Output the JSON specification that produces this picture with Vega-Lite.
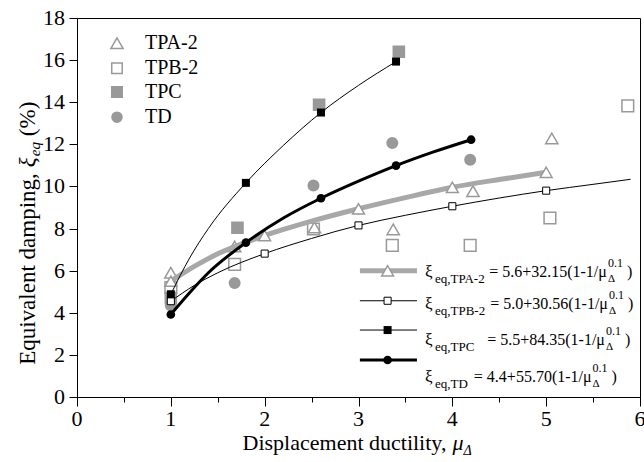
{
 "$schema": "https://vega.github.io/schema/vega-lite/v6.json",
 "width": 563, "height": 379,
 "autosize": {"type": "none"},
 "padding": {"left": 77, "top": 18, "right": 4, "bottom": 65},
 "background": "white",
 "config": {
  "view": {"stroke": "black", "strokeWidth": 1},
  "font": "Liberation Serif",
  "text": {"font": "Liberation Serif", "color": "black"}
 },
 "datasets": {
  "pts": [
   {"series":"TPA-2","x":1,"y":5.9},{"series":"TPA-2","x":1.68,"y":7.15},{"series":"TPA-2","x":2.53,"y":8.05},{"series":"TPA-2","x":3.37,"y":7.96},{"series":"TPA-2","x":4.22,"y":9.78},{"series":"TPA-2","x":5.06,"y":12.28},
   {"series":"TPB-2","x":1,"y":5.2},{"series":"TPB-2","x":1.68,"y":6.3},{"series":"TPB-2","x":2.52,"y":7.98},{"series":"TPB-2","x":3.36,"y":7.2},{"series":"TPB-2","x":4.19,"y":7.2},{"series":"TPB-2","x":5.04,"y":8.5},{"series":"TPB-2","x":5.87,"y":13.83},
   {"series":"TPC","x":1,"y":4.7},{"series":"TPC","x":1.71,"y":8.04},{"series":"TPC","x":2.58,"y":13.88},{"series":"TPC","x":3.43,"y":16.4},
   {"series":"TD","x":1,"y":4.35},{"series":"TD","x":1.68,"y":5.41},{"series":"TD","x":2.52,"y":10.04},{"series":"TD","x":3.36,"y":12.06},{"series":"TD","x":4.19,"y":11.27}
  ],
  "fits": [
   {"series":"TPA-2","x":1,"y":5.5,"m":1},{"series":"TPA-2","x":1.25,"y":6.2,"m":0},{"series":"TPA-2","x":1.5,"y":6.8,"m":0},{"series":"TPA-2","x":2,"y":7.67,"m":1},{"series":"TPA-2","x":2.5,"y":8.35,"m":0},{"series":"TPA-2","x":3,"y":8.94,"m":1},{"series":"TPA-2","x":3.5,"y":9.47,"m":0},{"series":"TPA-2","x":4,"y":9.96,"m":1},{"series":"TPA-2","x":4.5,"y":10.33,"m":0},{"series":"TPA-2","x":5,"y":10.67,"m":1},
   {"series":"TPB-2","x":1,"y":4.55,"m":1},{"series":"TPB-2","x":1.25,"y":5.3,"m":0},{"series":"TPB-2","x":1.5,"y":5.9,"m":0},{"series":"TPB-2","x":2,"y":6.81,"m":1},{"series":"TPB-2","x":2.5,"y":7.53,"m":0},{"series":"TPB-2","x":3,"y":8.15,"m":1},{"series":"TPB-2","x":3.5,"y":8.63,"m":0},{"series":"TPB-2","x":4,"y":9.06,"m":1},{"series":"TPB-2","x":4.5,"y":9.45,"m":0},{"series":"TPB-2","x":5,"y":9.8,"m":1},{"series":"TPB-2","x":5.5,"y":10.1,"m":0},{"series":"TPB-2","x":5.9,"y":10.34,"m":0},
   {"series":"TPC","x":1,"y":4.88,"m":1},{"series":"TPC","x":1.2,"y":6.6,"m":0},{"series":"TPC","x":1.4,"y":8.0,"m":0},{"series":"TPC","x":1.8,"y":10.17,"m":1},{"series":"TPC","x":2.2,"y":11.95,"m":0},{"series":"TPC","x":2.6,"y":13.51,"m":1},{"series":"TPC","x":3.0,"y":14.8,"m":0},{"series":"TPC","x":3.4,"y":15.93,"m":1},
   {"series":"TD","x":1,"y":3.92,"m":1},{"series":"TD","x":1.2,"y":4.95,"m":0},{"series":"TD","x":1.4,"y":5.9,"m":0},{"series":"TD","x":1.8,"y":7.33,"m":1},{"series":"TD","x":2.2,"y":8.5,"m":0},{"series":"TD","x":2.6,"y":9.44,"m":1},{"series":"TD","x":3.0,"y":10.25,"m":0},{"series":"TD","x":3.4,"y":10.99,"m":1},{"series":"TD","x":3.8,"y":11.64,"m":0},{"series":"TD","x":4.2,"y":12.22,"m":1}
  ],
  "xticks": [{"v":0},{"v":1},{"v":2},{"v":3},{"v":4},{"v":5},{"v":6}],
  "yticks": [{"v":0},{"v":2},{"v":4},{"v":6},{"v":8},{"v":10},{"v":12},{"v":14},{"v":16},{"v":18}]
 },
 "layer": [
  {
   "data": {"name": "pts"},
   "mark": {"type": "point", "filled": true, "strokeWidth": 1.5, "opacity": 1},
   "encoding": {
    "x": {"field": "x", "type": "quantitative", "title": null, "scale": {"domain": [0, 6], "nice": false},
     "axis": {"values": [0,0.5,1,1.5,2,2.5,3,3.5,4,4.5,5,5.5,6], "labels": false,
      "tickSize": {"condition": {"test": "datum.value % 1 === 0", "value": 9}, "value": 5},
      "tickColor": "black", "domainColor": "black", "grid": false, "title": null}},
    "y": {"field": "y", "type": "quantitative", "title": null, "scale": {"domain": [0, 18], "nice": false},
     "axis": {"values": [0,1,2,3,4,5,6,7,8,9,10,11,12,13,14,15,16,17,18], "labels": false,
      "tickSize": {"condition": {"test": "datum.value % 2 === 0", "value": 8}, "value": 4},
      "tickColor": "black", "domainColor": "black", "grid": false, "title": null}},
    "shape": {"field": "series", "type": "nominal", "legend": null,
     "scale": {"domain": ["TPA-2","TPB-2","TPC","TD"], "range": ["triangle-up","square","square","circle"]}},
    "fill": {"field": "series", "type": "nominal", "legend": null,
     "scale": {"domain": ["TPA-2","TPB-2","TPC","TD"], "range": ["transparent","transparent","#999999","#999999"]}},
    "stroke": {"field": "series", "type": "nominal", "legend": null,
     "scale": {"domain": ["TPA-2","TPB-2","TPC","TD"], "range": ["#999999","#999999","#999999","#999999"]}},
    "size": {"field": "series", "type": "nominal", "legend": null,
     "scale": {"domain": ["TPA-2","TPB-2","TPC","TD"], "range": [150, 110, 110, 100]}}
   }
  },
  {
   "data": {"name": "xticks"},
   "mark": {"type": "text", "baseline": "top", "align": "center", "fontSize": 22, "dy": 12},
   "encoding": {"x": {"field": "v", "type": "quantitative", "title": null}, "y": {"datum": 0}, "text": {"field": "v", "type": "quantitative"}}
  },
  {
   "data": {"name": "yticks"},
   "mark": {"type": "text", "baseline": "middle", "align": "right", "fontSize": 22, "dx": -12},
   "encoding": {"y": {"field": "v", "type": "quantitative", "title": null}, "x": {"datum": 0}, "text": {"field": "v", "type": "quantitative"}}
  },
  {
   "data": {"name": "fits"}, "transform": [{"filter": "datum.series === 'TPA-2'"}],
   "mark": {"type": "line", "interpolate": "monotone", "color": "#a8a8a8", "strokeWidth": 5},
   "encoding": {"x": {"field": "x", "type": "quantitative", "title": null}, "y": {"field": "y", "type": "quantitative", "title": null}}
  },
  {
   "data": {"name": "fits"}, "transform": [{"filter": "datum.series === 'TPA-2' && datum.m === 1"}],
   "mark": {"type": "point", "shape": "triangle-up", "filled": true, "fill": "white", "stroke": "#999999", "strokeWidth": 1.5, "size": 140, "opacity": 1},
   "encoding": {"x": {"field": "x", "type": "quantitative", "title": null}, "y": {"field": "y", "type": "quantitative", "title": null}}
  },
  {
   "data": {"name": "fits"}, "transform": [{"filter": "datum.series === 'TPB-2'"}],
   "mark": {"type": "line", "interpolate": "monotone", "color": "black", "strokeWidth": 1},
   "encoding": {"x": {"field": "x", "type": "quantitative", "title": null}, "y": {"field": "y", "type": "quantitative", "title": null}}
  },
  {
   "data": {"name": "fits"}, "transform": [{"filter": "datum.series === 'TPB-2' && datum.m === 1"}],
   "mark": {"type": "point", "shape": "square", "filled": true, "fill": "white", "stroke": "black", "strokeWidth": 1, "size": 50, "opacity": 1},
   "encoding": {"x": {"field": "x", "type": "quantitative", "title": null}, "y": {"field": "y", "type": "quantitative", "title": null}}
  },
  {
   "data": {"name": "fits"}, "transform": [{"filter": "datum.series === 'TPC'"}],
   "mark": {"type": "line", "interpolate": "monotone", "color": "black", "strokeWidth": 1},
   "encoding": {"x": {"field": "x", "type": "quantitative", "title": null}, "y": {"field": "y", "type": "quantitative", "title": null}}
  },
  {
   "data": {"name": "fits"}, "transform": [{"filter": "datum.series === 'TPC' && datum.m === 1"}],
   "mark": {"type": "point", "shape": "square", "filled": true, "fill": "black", "size": 64, "opacity": 1},
   "encoding": {"x": {"field": "x", "type": "quantitative", "title": null}, "y": {"field": "y", "type": "quantitative", "title": null}}
  },
  {
   "data": {"name": "fits"}, "transform": [{"filter": "datum.series === 'TD'"}],
   "mark": {"type": "line", "interpolate": "monotone", "color": "black", "strokeWidth": 3},
   "encoding": {"x": {"field": "x", "type": "quantitative", "title": null}, "y": {"field": "y", "type": "quantitative", "title": null}}
  },
  {
   "data": {"name": "fits"}, "transform": [{"filter": "datum.series === 'TD' && datum.m === 1"}],
   "mark": {"type": "point", "shape": "circle", "filled": true, "fill": "black", "size": 75, "opacity": 1},
   "encoding": {"x": {"field": "x", "type": "quantitative", "title": null}, "y": {"field": "y", "type": "quantitative", "title": null}}
  },
  {
   "data": {"values": [{}]},
   "layer": [
    {"mark": {"type": "point", "shape": "triangle-up", "filled": true, "fill": "transparent", "stroke": "#999999", "strokeWidth": 1.5, "size": 150, "opacity": 1}, "encoding": {"x": {"datum": 0.426}, "y": {"datum": 16.8}}},
    {"mark": {"type": "text", "text": "TPA-2", "align": "left", "baseline": "middle", "fontSize": 20}, "encoding": {"x": {"datum": 0.725}, "y": {"datum": 16.8}}},
    {"mark": {"type": "point", "shape": "square", "filled": true, "fill": "transparent", "stroke": "#999999", "strokeWidth": 1.5, "size": 110, "opacity": 1}, "encoding": {"x": {"datum": 0.426}, "y": {"datum": 15.61}}},
    {"mark": {"type": "text", "text": "TPB-2", "align": "left", "baseline": "middle", "fontSize": 20}, "encoding": {"x": {"datum": 0.725}, "y": {"datum": 15.61}}},
    {"mark": {"type": "point", "shape": "square", "filled": true, "fill": "#999999", "stroke": "#999999", "strokeWidth": 1.5, "size": 110, "opacity": 1}, "encoding": {"x": {"datum": 0.426}, "y": {"datum": 14.48}}},
    {"mark": {"type": "text", "text": "TPC", "align": "left", "baseline": "middle", "fontSize": 20}, "encoding": {"x": {"datum": 0.725}, "y": {"datum": 14.48}}},
    {"mark": {"type": "point", "shape": "circle", "filled": true, "fill": "#999999", "stroke": "#999999", "strokeWidth": 1.5, "size": 100, "opacity": 1}, "encoding": {"x": {"datum": 0.426}, "y": {"datum": 13.29}}},
    {"mark": {"type": "text", "text": "TD", "align": "left", "baseline": "middle", "fontSize": 20}, "encoding": {"x": {"datum": 0.725}, "y": {"datum": 13.29}}}
   ]
  },
  {
   "data": {"values": [{}]},
   "layer": [
    {"mark": {"type": "rule", "color": "#a8a8a8", "strokeWidth": 5}, "encoding": {"x": {"datum": 3.015}, "x2": {"datum": 3.623}, "y": {"datum": 5.995}}},
    {"mark": {"type": "point", "shape": "triangle-up", "filled": true, "fill": "white", "stroke": "#999999", "strokeWidth": 1.5, "size": 140, "opacity": 1}, "encoding": {"x": {"datum": 3.31}, "y": {"datum": 5.995}}},
    {"mark": {"type": "rule", "color": "black", "strokeWidth": 1}, "encoding": {"x": {"datum": 3.015}, "x2": {"datum": 3.623}, "y": {"datum": 4.571}}},
    {"mark": {"type": "point", "shape": "square", "filled": true, "fill": "white", "stroke": "black", "strokeWidth": 1, "size": 50, "opacity": 1}, "encoding": {"x": {"datum": 3.31}, "y": {"datum": 4.571}}},
    {"mark": {"type": "rule", "color": "black", "strokeWidth": 1}, "encoding": {"x": {"datum": 3.015}, "x2": {"datum": 3.623}, "y": {"datum": 3.18}}},
    {"mark": {"type": "point", "shape": "square", "filled": true, "fill": "black", "size": 64, "opacity": 1}, "encoding": {"x": {"datum": 3.31}, "y": {"datum": 3.18}}},
    {"mark": {"type": "rule", "color": "black", "strokeWidth": 3}, "encoding": {"x": {"datum": 3.015}, "x2": {"datum": 3.623}, "y": {"datum": 1.756}}},
    {"mark": {"type": "point", "shape": "circle", "filled": true, "fill": "black", "size": 75, "opacity": 1}, "encoding": {"x": {"datum": 3.31}, "y": {"datum": 1.756}}}
   ]
  },
  {
   "data": {"values": [{}]},
   "encoding": {"y": {"datum": 5.695}},
   "layer": [
    {"mark": {"type": "text", "text": "ξ", "align": "left", "baseline": "alphabetic", "fontSize": 17}, "encoding": {"x": {"datum": 3.708}}},
    {"mark": {"type": "text", "text": "eq,TPA-2", "align": "left", "baseline": "alphabetic", "fontSize": 13, "dy": 6}, "encoding": {"x": {"datum": 3.815}}},
    {"mark": {"type": "text", "text": "= 5.6+32.15(1-1/μ", "align": "right", "baseline": "alphabetic", "fontSize": 16}, "encoding": {"x": {"datum": 5.647}}},
    {"mark": {"type": "text", "text": "0.1", "align": "left", "baseline": "alphabetic", "fontSize": 12, "dx": 1, "dy": -10}, "encoding": {"x": {"datum": 5.647}}},
    {"mark": {"type": "text", "text": "Δ", "align": "left", "baseline": "alphabetic", "fontSize": 11, "dx": 1, "dy": 5}, "encoding": {"x": {"datum": 5.647}}},
    {"mark": {"type": "text", "text": ")", "align": "left", "baseline": "alphabetic", "fontSize": 16, "dx": 20}, "encoding": {"x": {"datum": 5.647}}}
   ]
  },
  {
   "data": {"values": [{}]},
   "encoding": {"y": {"datum": 4.196}},
   "layer": [
    {"mark": {"type": "text", "text": "ξ", "align": "left", "baseline": "alphabetic", "fontSize": 17}, "encoding": {"x": {"datum": 3.708}}},
    {"mark": {"type": "text", "text": "eq,TPB-2", "align": "left", "baseline": "alphabetic", "fontSize": 13, "dy": 6}, "encoding": {"x": {"datum": 3.815}}},
    {"mark": {"type": "text", "text": "= 5.0+30.56(1-1/μ", "align": "right", "baseline": "alphabetic", "fontSize": 16}, "encoding": {"x": {"datum": 5.658}}},
    {"mark": {"type": "text", "text": "0.1", "align": "left", "baseline": "alphabetic", "fontSize": 12, "dx": 1, "dy": -10}, "encoding": {"x": {"datum": 5.658}}},
    {"mark": {"type": "text", "text": "Δ", "align": "left", "baseline": "alphabetic", "fontSize": 11, "dx": 1, "dy": 5}, "encoding": {"x": {"datum": 5.658}}},
    {"mark": {"type": "text", "text": ")", "align": "left", "baseline": "alphabetic", "fontSize": 16, "dx": 20}, "encoding": {"x": {"datum": 5.658}}}
   ]
  },
  {
   "data": {"values": [{}]},
   "encoding": {"y": {"datum": 2.454}},
   "layer": [
    {"mark": {"type": "text", "text": "ξ", "align": "left", "baseline": "alphabetic", "fontSize": 17}, "encoding": {"x": {"datum": 3.708}}},
    {"mark": {"type": "text", "text": "eq,TPC", "align": "left", "baseline": "alphabetic", "fontSize": 13, "dy": 6}, "encoding": {"x": {"datum": 3.815}}},
    {"mark": {"type": "text", "text": "= 5.5+84.35(1-1/μ", "align": "right", "baseline": "alphabetic", "fontSize": 16}, "encoding": {"x": {"datum": 5.626}}},
    {"mark": {"type": "text", "text": "0.1", "align": "left", "baseline": "alphabetic", "fontSize": 12, "dx": 1, "dy": -10}, "encoding": {"x": {"datum": 5.626}}},
    {"mark": {"type": "text", "text": "Δ", "align": "left", "baseline": "alphabetic", "fontSize": 11, "dx": 1, "dy": 5}, "encoding": {"x": {"datum": 5.626}}},
    {"mark": {"type": "text", "text": ")", "align": "left", "baseline": "alphabetic", "fontSize": 16, "dx": 20}, "encoding": {"x": {"datum": 5.626}}}
   ]
  },
  {
   "data": {"values": [{}]},
   "encoding": {"y": {"datum": 0.712}},
   "layer": [
    {"mark": {"type": "text", "text": "ξ", "align": "left", "baseline": "alphabetic", "fontSize": 17}, "encoding": {"x": {"datum": 3.708}}},
    {"mark": {"type": "text", "text": "eq,TD", "align": "left", "baseline": "alphabetic", "fontSize": 13, "dy": 6}, "encoding": {"x": {"datum": 3.815}}},
    {"mark": {"type": "text", "text": "= 4.4+55.70(1-1/μ", "align": "right", "baseline": "alphabetic", "fontSize": 16}, "encoding": {"x": {"datum": 5.484}}},
    {"mark": {"type": "text", "text": "0.1", "align": "left", "baseline": "alphabetic", "fontSize": 12, "dx": 1, "dy": -10}, "encoding": {"x": {"datum": 5.484}}},
    {"mark": {"type": "text", "text": "Δ", "align": "left", "baseline": "alphabetic", "fontSize": 11, "dx": 1, "dy": 5}, "encoding": {"x": {"datum": 5.484}}},
    {"mark": {"type": "text", "text": ")", "align": "left", "baseline": "alphabetic", "fontSize": 16, "dx": 20}, "encoding": {"x": {"datum": 5.484}}}
   ]
  },
  {
   "data": {"values": [{}]},
   "encoding": {"x": {"datum": 3.937}, "y": {"datum": -2.5}},
   "layer": [
    {"mark": {"type": "text", "text": "Displacement ductility,", "align": "right", "baseline": "alphabetic", "fontSize": 22}},
    {"mark": {"type": "text", "text": "μ", "align": "left", "baseline": "alphabetic", "fontSize": 22, "fontStyle": "italic", "dx": 6}},
    {"mark": {"type": "text", "text": "Δ", "align": "left", "baseline": "alphabetic", "fontSize": 14, "fontStyle": "italic", "dx": 17, "dy": 5}}
   ]
  },
  {
   "data": {"values": [{}]},
   "encoding": {"x": {"datum": -0.45}, "y": {"datum": 10.63}},
   "layer": [
    {"mark": {"type": "text", "text": "Equivalent damping,", "align": "right", "baseline": "alphabetic", "fontSize": 23, "angle": 270}},
    {"mark": {"type": "text", "text": "ξ", "align": "left", "baseline": "alphabetic", "fontSize": 23, "fontStyle": "italic", "angle": 270, "dx": 6}},
    {"mark": {"type": "text", "text": "eq", "align": "left", "baseline": "alphabetic", "fontSize": 15, "fontStyle": "italic", "angle": 270, "dx": 17, "dy": 5}},
    {"mark": {"type": "text", "text": "(%)", "align": "left", "baseline": "alphabetic", "fontSize": 23, "angle": 270, "dx": 37}}
   ]
  }
 ]
}
